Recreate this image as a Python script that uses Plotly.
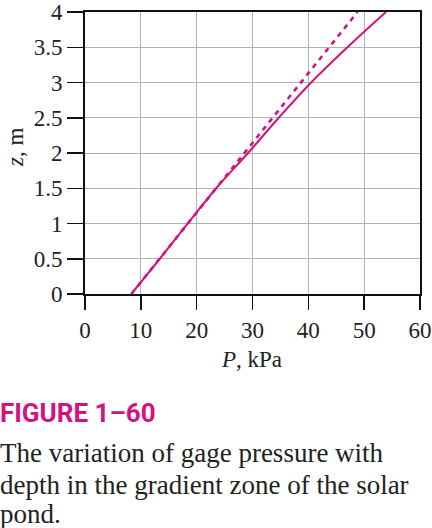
import plotly.graph_objects as go

# Data
z_solid = [0, 0.5, 1.0, 1.5, 2.0, 2.5, 3.0, 3.5, 4.0]
p_solid = [8.3, 13.4, 18.4, 23.5, 29.2, 34.7, 40.5, 47.0, 53.9]
z_dashed = [0, 4.0]
p_dashed = [8.3, 48.8]
x_ticks = [0, 10, 20, 30, 40, 50, 60]
y_ticks = [0, 0.5, 1, 1.5, 2, 2.5, 3, 3.5, 4]
y_ticklabels = ["0", "0.5", "1", "1.5", "2", "2.5", "3", "3.5", "4"]

MAG = "#D4127E"
SERIF = "Liberation Serif"
TXT = "#222"

fig = go.Figure()
fig.add_trace(go.Scatter(x=p_dashed, y=z_dashed, mode="lines",
                         line=dict(color=MAG, width=2.6, dash="5px,5px"),
                         showlegend=False, hoverinfo="skip"))
fig.add_trace(go.Scatter(x=p_solid, y=z_solid, mode="lines", line_shape="spline",
                         line=dict(color=MAG, width=2),
                         showlegend=False, hoverinfo="skip"))

L, R, T, B = 85, 12, 12, 234
W, H = 432, 528
pw, ph = W - L - R, H - T - B

def px_to_paper_x(px):
    return (px - L) / pw

def px_to_paper_y(py):
    return (H - B - py) / ph

axis_common = dict(ticks="outside", tickwidth=1.5, tickcolor="#111",
                   showgrid=True, gridcolor="#b3b3b3", gridwidth=1,
                   showline=True, linecolor="#111", linewidth=2, mirror=True,
                   zeroline=False, fixedrange=True, automargin=False,
                   ticklabeloverflow="allow",
                   tickfont=dict(family=SERIF, size=23, color=TXT))

fig.update_layout(
    width=W, height=H,
    margin=dict(l=L, r=R, t=T, b=B, pad=0, autoexpand=False),
    paper_bgcolor="white", plot_bgcolor="white",
    font=dict(family=SERIF, size=23, color=TXT),
    xaxis=dict(range=[0, 60], tickvals=x_ticks, ticklen=14, **axis_common),
    yaxis=dict(range=[0, 4], tickvals=y_ticks, ticktext=y_ticklabels,
               ticklen=16, **axis_common),
)

annos = [
    dict(text="<i>P</i>, kPa", x=px_to_paper_x(251), y=px_to_paper_y(359),
         xanchor="center", yanchor="middle", font=dict(family=SERIF, size=23, color=TXT)),
    dict(text="<i>z</i>, m", x=px_to_paper_x(15), y=px_to_paper_y(148), textangle=-90,
         xanchor="center", yanchor="middle", font=dict(family=SERIF, size=23, color=TXT)),
    dict(text="<b>FIGURE 1–60</b>", x=px_to_paper_x(-2), y=px_to_paper_y(413),
         xanchor="left", yanchor="middle",
         font=dict(family="Liberation Sans Narrow, Roboto, Arial, sans-serif", size=26, color=MAG)),
    dict(text="The variation of gage pressure with", x=px_to_paper_x(-2), y=px_to_paper_y(453),
         xanchor="left", yanchor="middle", font=dict(family=SERIF, size=27, color=TXT)),
    dict(text="depth in the gradient zone of the solar", x=px_to_paper_x(-2), y=px_to_paper_y(485),
         xanchor="left", yanchor="middle", font=dict(family=SERIF, size=27, color=TXT)),
    dict(text="pond.", x=px_to_paper_x(-2), y=px_to_paper_y(514),
         xanchor="left", yanchor="middle", font=dict(family=SERIF, size=27, color=TXT)),
]
for a in annos:
    a.update(xref="paper", yref="paper", showarrow=False)
fig.update_layout(annotations=annos)

fig.write_html("out.html", config={"displayModeBar": False, "staticPlot": True},
               post_script="document.body.style.margin='0';document.body.style.overflow='hidden';")
